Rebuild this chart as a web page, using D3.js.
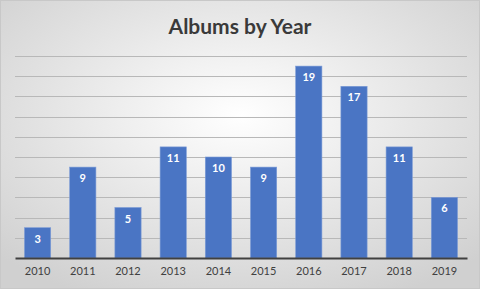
<!DOCTYPE html>
<html>
<head>
<script src="https://cdn.jsdelivr.net/npm/d3@7"></script>
<style>
  body { margin: 0; }
  svg { display: block; }
</style>
</head>
<body>
<div id="chart"></div>
<script>
  // data
  var years = ["2010", "2011", "2012", "2013", "2014", "2015", "2016", "2017", "2018", "2019"];
  var albums = [3, 9, 5, 11, 10, 9, 19, 17, 11, 6];
  var gridTicks = [0, 2, 4, 6, 8, 10, 12, 14, 16, 18, 20];

  var w = 480, h = 289;
  // plot box (window.top is reserved, so use own names)
  var plotLeft = 15, plotRight = 467, plotTop = 56, plotBottom = 258;

  var svg = d3.select("#chart").append("svg")
    .attr("width", w)
    .attr("height", h);

  // radial grey background like the office chart
  var grad = svg.append("defs").append("radialGradient")
    .attr("id", "bg")
    .attr("cx", "50%").attr("cy", "40%").attr("r", "70%");
  grad.append("stop").attr("offset", "0%").attr("stop-color", "#ffffff");
  grad.append("stop").attr("offset", "100%").attr("stop-color", "#d0d0d0");

  svg.append("rect")
    .attr("x", 0.5).attr("y", 0.5)
    .attr("width", w - 1).attr("height", h - 1)
    .attr("fill", "url(#bg)")
    .attr("stroke", "#c8c8c8");

  var x = d3.scaleBand()
    .domain(years)
    .range([plotLeft, plotRight])
    .paddingInner(0.42)
    .paddingOuter(0.21);

  var y = d3.scaleLinear()
    .domain([0, 20])
    .range([plotBottom, plotTop]);

  // gridlines
  svg.append("g")
    .selectAll("line")
    .data(gridTicks.slice(1))
    .enter()
    .append("line")
    .attr("x1", plotLeft)
    .attr("x2", plotRight)
    .attr("y1", function(d) { return Math.round(y(d)) + 0.5; })
    .attr("y2", function(d) { return Math.round(y(d)) + 0.5; })
    .attr("stroke", "#b8b8b8")
    .attr("stroke-width", 1);

  // bars
  svg.append("g")
    .selectAll("rect")
    .data(albums)
    .enter()
    .append("rect")
    .attr("x", function(d, i) { return x(years[i]); })
    .attr("y", function(d) { return y(d); })
    .attr("width", x.bandwidth())
    .attr("height", function(d) { return plotBottom - y(d); })
    .attr("fill", "#4a75c4")
    .attr("stroke", "#7c9bd6")
    .attr("stroke-width", 0.6);

  // value labels inside bar tops
  svg.append("g")
    .selectAll("text")
    .data(albums)
    .enter()
    .append("text")
    .text(function(d) { return d; })
    .attr("x", function(d, i) { return x(years[i]) + x.bandwidth() / 2; })
    .attr("y", function(d) { return y(d) + 15; })
    .attr("font-family", "Lato, 'Open Sans', sans-serif")
    .attr("font-size", "11px")
    .attr("font-weight", "bold")
    .attr("fill", "white")
    .attr("text-anchor", "middle");

  // x axis
  var xAxis = svg.append("g")
    .attr("transform", "translate(0," + plotBottom + ")")
    .call(d3.axisBottom(x).tickSize(0).tickPadding(9));
  xAxis.select(".domain")
    .attr("stroke", "#404040")
    .attr("stroke-width", 2);
  xAxis.selectAll("text")
    .attr("font-family", "Lato, 'Open Sans', sans-serif")
    .attr("font-size", "11px")
    .attr("fill", "#404040");

  // title
  svg.append("text")
    .text("Albums by Year")
    .attr("x", w / 2)
    .attr("y", 34)
    .attr("text-anchor", "middle")
    .attr("font-family", "Lato, 'Open Sans', sans-serif")
    .attr("font-size", "21px")
    .attr("font-weight", "bold")
    .attr("fill", "#3a3a3a");
</script>
</body>
</html>
